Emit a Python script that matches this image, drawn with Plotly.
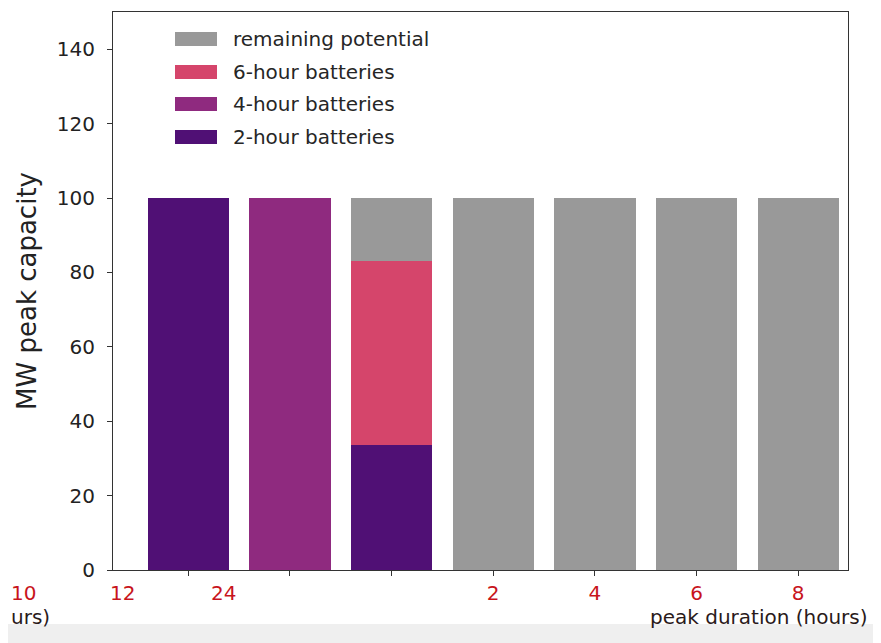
import plotly.graph_objects as go

# ---- data ----
positions = [0, 1, 2, 3, 4, 5, 6]
two_hour = [100, 0, 33.5, 0, 0, 0, 0]
four_hour = [0, 100, 0, 0, 0, 0, 0]
six_hour = [0, 0, 49.5, 0, 0, 0, 0]
remaining = [0, 0, 17, 100, 100, 100, 100]
series_names = ["2-hour batteries", "4-hour batteries", "6-hour batteries", "remaining potential"]
series_colors = ["#501075", "#8f2a7f", "#d5456b", "#999999"]
tick_text = ["", "", "", "2", "4", "6", "8"]
stray_labels = ["10", "12", "24"]
stray_positions = [-1.62, -0.65, 0.35]
y_ticks = [0, 20, 40, 60, 80, 100, 120, 140]

W, H = 881, 643
OFF = 8  # page offset of the figure (browser body margin)
# plot area in page pixels
PX0, PX1, PY0, PY1 = 113, 848, 12, 570
L, R, T, B = PX0 - OFF, W - (PX1 - OFF), PY0 - OFF, H - (PY1 - OFF)
pw, ph = W - L - R, H - T - B
XMIN, XMAX = -0.74, 6.49

def px_x(x):
    return (x - PX0) / pw

def px_y(y):
    return (PY1 - y) / ph

fig = go.Figure()
for name, vals, col in zip(series_names, [two_hour, four_hour, six_hour, remaining], series_colors):
    fig.add_trace(go.Bar(x=positions, y=vals, name=name, marker=dict(color=col, line=dict(width=0)),
                         width=0.8, showlegend=False))

# manual legend (matplotlib style wide swatches)
legend_rows = [137, 104, 72, 39]
for name, col, yy in zip(series_names, series_colors, legend_rows):
    fig.add_shape(type="rect", xref="paper", yref="paper", x0=px_x(175), x1=px_x(217),
                  y0=px_y(yy + 7), y1=px_y(yy - 7), fillcolor=col, line=dict(width=0))
    fig.add_annotation(xref="paper", yref="paper", x=px_x(231), y=px_y(yy), text=name, showarrow=False,
                       xanchor="left", yanchor="middle",
                       font=dict(family="DejaVu Sans", size=20, color="#262626"))

tick_red = "#c8141c"
for lab, p in zip(stray_labels, stray_positions):
    fig.add_annotation(x=(p - XMIN) / (XMAX - XMIN), y=0, xref="paper", yref="paper", text=lab,
                       showarrow=False, xanchor="center", yanchor="top", yshift=-9,
                       font=dict(family="DejaVu Sans", size=20, color=tick_red))

# bottom texts
fig.add_annotation(xref="paper", yref="paper", x=px_x(9), y=px_y(603), text="urs)", showarrow=False,
                   xanchor="left", yanchor="top", font=dict(family="DejaVu Sans", size=20, color="#2a1a1a"))
fig.add_annotation(xref="paper", yref="paper", x=px_x(648), y=px_y(603), text="peak duration (hours)",
                   showarrow=False, xanchor="left", yanchor="top",
                   font=dict(family="DejaVu Sans", size=20, color="#2a1a1a"))
# grey band at the bottom of the page
fig.add_shape(type="rect", xref="paper", yref="paper", x0=px_x(0), x1=px_x(W + 20),
              y0=px_y(H + 20), y1=px_y(624), fillcolor="#efefef", line=dict(width=0), layer="above")

fig.update_layout(
    width=W, height=H,
    margin=dict(l=L, r=R, t=T, b=B, autoexpand=False),
    plot_bgcolor="white", paper_bgcolor="white",
    barmode="stack",
    font=dict(family="DejaVu Sans", color="#222"),
    xaxis=dict(range=[XMIN, XMAX], tickvals=positions, ticktext=tick_text,
               ticks="outside", ticklen=5, tickcolor="#333",
               showline=True, linecolor="#333", linewidth=1, mirror=True,
               showgrid=False, zeroline=False,
               tickfont=dict(family="DejaVu Sans", size=20, color=tick_red)),
    yaxis=dict(range=[0, 150], tickvals=y_ticks, ticks="outside", ticklen=5, tickcolor="#333",
               showline=True, linecolor="#333", linewidth=1, mirror=True,
               showgrid=False, zeroline=False, ticklabelstandoff=8,
               tickfont=dict(family="DejaVu Sans", size=20, color="#222"),
               title=dict(text="MW peak capacity", font=dict(family="DejaVu Sans", size=26, color="#222"),
                          standoff=12)),
)

fig.write_html("out.html")
